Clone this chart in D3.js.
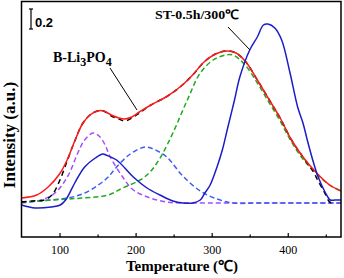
<html>
	<head>
		<script src="https://d3js.org/d3.v7.min.js"></script>
		<style>
			body { margin: 0; background: #fff; }
			.serif { font-family: "Times New Roman", "Liberation Serif", serif; }
			.tick text { font-family: "Times New Roman", "Liberation Serif", serif; font-size: 12px; fill: #000; }
			.tick line { stroke: #000; stroke-width: 1.2; }
			.curve { fill: none; stroke-width: 1.5; }
		</style>
	</head>

	<body>
		<svg width="344" height="278"></svg>
	</body>

	<script>
		// B-Li3PO4 fitted envelope (red)
		const fitT = [50, 70, 85, 100, 110, 120, 130, 140, 150, 158, 168, 178, 186, 195, 205, 220, 240, 260, 275, 290, 305, 320, 332, 345, 360, 375, 390, 405, 420, 438, 455, 470];
		const fitI = [0.05, 0.08, 0.16, 0.29, 0.43, 0.62, 0.79, 0.88, 0.92, 0.92, 0.88, 0.85, 0.84, 0.86, 0.91, 0.98, 1.06, 1.17, 1.28, 1.41, 1.49, 1.52, 1.50, 1.41, 1.23, 1.04, 0.85, 0.63, 0.46, 0.30, 0.18, 0.12];

		// B-Li3PO4 measured (black dashed)
		const expT = [50, 65, 80, 90, 100, 110, 120, 130, 140, 150, 158, 168, 178, 186, 195, 205, 220, 240, 260, 275, 290, 305, 320, 332, 345, 360, 375, 390, 405, 420, 433, 440, 448, 454, 457];
		const expI = [0.01, 0.02, 0.03, 0.08, 0.22, 0.42, 0.62, 0.79, 0.88, 0.92, 0.92, 0.87, 0.84, 0.82, 0.85, 0.90, 0.98, 1.06, 1.17, 1.28, 1.41, 1.49, 1.52, 1.50, 1.41, 1.23, 1.04, 0.85, 0.63, 0.46, 0.32, 0.22, 0.11, 0.02, 0.0];

		// ST-0.5h/300C (blue solid)
		const stT = [50, 68, 89, 101, 108, 120, 133, 147, 157, 161, 175, 197, 215, 232, 249, 262, 275, 285, 291, 298, 307, 314, 321, 330, 337, 350, 360, 368, 374, 383, 392, 403, 413, 420, 426, 434, 440, 449, 456, 462, 470];
		const stI = [-0.02, -0.05, -0.04, -0.02, 0.03, 0.20, 0.36, 0.45, 0.49, 0.48, 0.43, 0.26, 0.15, 0.08, 0.02, 0.0, 0.0, 0.03, 0.10, 0.18, 0.36, 0.53, 0.75, 1.03, 1.26, 1.53, 1.66, 1.78, 1.79, 1.75, 1.63, 1.30, 0.96, 0.80, 0.62, 0.40, 0.26, 0.11, 0.03, 0.03, 0.03];

		// fitted components (dashed)
		const p1T = [50, 76, 94, 111, 124, 133, 144, 152, 160, 166, 183, 197, 219, 241, 260, 300, 350, 400, 470];
		const p1I = [0.0, 0.03, 0.10, 0.27, 0.50, 0.63, 0.70, 0.67, 0.58, 0.47, 0.26, 0.13, 0.05, 0.01, 0.0, 0.0, 0.0, 0.0, 0.0];

		const p2T = [50, 111, 133, 151, 164, 175, 193, 213, 226, 241, 262, 285, 307, 328, 360, 420, 470];
		const p2I = [0.01, 0.05, 0.10, 0.18, 0.26, 0.36, 0.49, 0.56, 0.53, 0.46, 0.27, 0.12, 0.04, 0.0, 0.0, 0.0, 0.0];

		const p3T = [50, 111, 131, 164, 183, 206, 219, 228, 236, 249, 268, 285, 302, 318, 328, 344, 360, 375, 390, 405, 420, 438, 455, 470];
		const p3I = [0.01, 0.04, 0.05, 0.08, 0.15, 0.23, 0.31, 0.40, 0.50, 0.70, 1.03, 1.30, 1.43, 1.48, 1.48, 1.38, 1.20, 1.01, 0.82, 0.61, 0.44, 0.29, 0.18, 0.12];

		const majorTicks = [100, 200, 300, 400];
		const minorTicks = [150, 250, 350, 450];

		const svg = d3.select('svg');
		const x = d3.scaleLinear().domain([50, 470]).range([21.5, 341]);
		const y = d3.scaleLinear().domain([-0.34, 2.015]).range([237, 1.5]);

		svg.append('defs').append('clipPath').attr('id', 'clip')
			.append('rect')
			.attr('x', x(50)).attr('y', y(2.015))
			.attr('width', x(470) - x(50)).attr('height', y(-0.34) - y(2.015));

		const line = d3.line()
			.x(d => x(d[0]))
			.y(d => y(d[1]))
			.curve(d3.curveCatmullRom.alpha(0.5));

		const series = [
			{ t: p1T, v: p1I, color: '#a64dff', dash: '5,3' },
			{ t: p2T, v: p2I, color: '#3a5ef0', dash: '5,3' },
			{ t: p3T, v: p3I, color: '#1faa1f', dash: '5,3' },
			{ t: expT, v: expI, color: '#000', dash: '5,4' },
			{ t: fitT, v: fitI, color: '#ff1a1a', dash: null },
			{ t: stT, v: stI, color: '#1c1cc8', dash: null }
		];

		svg.append('g')
			.attr('clip-path', 'url(#clip)')
			.selectAll('path')
			.data(series)
			.join('path')
			.attr('class', 'curve')
			.attr('stroke', d => d.color)
			.attr('stroke-dasharray', d => d.dash)
			.attr('d', d => line(d.t.map((t, i) => [t, d.v[i]])));

		// axes
		svg.append('g')
			.attr('transform', `translate(0,${y(-0.34)})`)
			.call(d3.axisBottom(x).tickValues(majorTicks).tickSize(-4).tickPadding(8))
			.call(g => g.select('.domain').remove());

		svg.append('g')
			.attr('transform', `translate(0,${y(-0.34)})`)
			.call(d3.axisBottom(x).tickValues(minorTicks).tickSize(-2.5).tickFormat(''))
			.call(g => g.select('.domain').remove());

		svg.append('rect')
			.attr('x', x(50)).attr('y', y(2.015))
			.attr('width', x(470) - x(50)).attr('height', y(-0.34) - y(2.015))
			.attr('fill', 'none').attr('stroke', '#000').attr('stroke-width', 1.5);

		svg.append('text')
			.attr('class', 'serif')
			.attr('x', 182).attr('y', 271)
			.attr('text-anchor', 'middle')
			.attr('font-size', 15).attr('font-weight', 'bold')
			.text('Temperature (℃)');

		svg.append('text')
			.attr('class', 'serif')
			.attr('transform', 'translate(15,135) rotate(-90)')
			.attr('text-anchor', 'middle')
			.attr('font-size', 17).attr('font-weight', 'bold')
			.text('Intensity (a.u.)');

		// scale bar
		const sb = svg.append('g').attr('stroke', '#000').attr('stroke-width', 1.2);
		sb.append('line').attr('x1', 31).attr('x2', 31).attr('y1', y(1.94)).attr('y2', y(1.74));
		sb.append('line').attr('x1', 29).attr('x2', 33).attr('y1', y(1.94)).attr('y2', y(1.94));
		sb.append('line').attr('x1', 29).attr('x2', 33).attr('y1', y(1.74)).attr('y2', y(1.74));
		svg.append('text')
			.attr('x', 35).attr('y', 27)
			.attr('font-family', 'Liberation Sans, Arial, sans-serif')
			.attr('font-size', 13).attr('font-weight', 'bold')
			.text('0.2');

		// labels with pointers
		const lab1 = svg.append('text')
			.attr('class', 'serif')
			.attr('x', 53).attr('y', 62)
			.attr('font-size', 14).attr('font-weight', 'bold');
		lab1.append('tspan').text('B-Li');
		lab1.append('tspan').attr('dy', 4).attr('font-size', 12).text('3');
		lab1.append('tspan').attr('dy', -4).text('PO');
		lab1.append('tspan').attr('dy', 4).attr('font-size', 12).text('4');

		svg.append('line')
			.attr('x1', 110).attr('y1', 68).attr('x2', 137).attr('y2', 110)
			.attr('stroke', '#000').attr('stroke-width', 1);

		svg.append('text')
			.attr('class', 'serif')
			.attr('x', 155).attr('y', 19)
			.attr('font-size', 13).attr('font-weight', 'bold')
			.attr('textLength', 84).attr('lengthAdjust', 'spacingAndGlyphs')
			.text('ST-0.5h/300℃');

		svg.append('line')
			.attr('x1', 228).attr('y1', 27).attr('x2', 250).attr('y2', 50)
			.attr('stroke', '#000').attr('stroke-width', 1);
	</script>

</html>
